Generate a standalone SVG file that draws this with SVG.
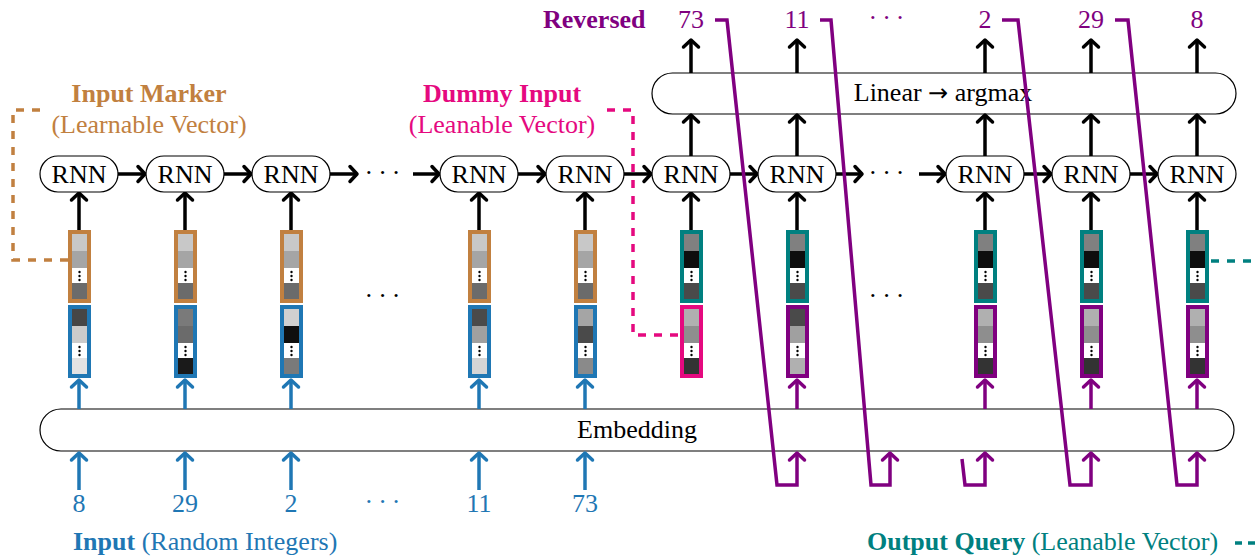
<svg xmlns="http://www.w3.org/2000/svg" width="1258" height="556" viewBox="0 0 1258 556">
<style>
.t{font-family:"Liberation Serif","Times New Roman",serif;font-size:26px}
.b{font-weight:bold}
.m{text-anchor:middle}
.node{fill:#fff;stroke:#000;stroke-width:1.2}
.ak{fill:none;stroke:#000;stroke-width:3.5}
.ab{fill:none;stroke:#1F77B4;stroke-width:3.5}
.ap{fill:none;stroke:#800080;stroke-width:3.5}
.dash{fill:none;stroke-width:3.5;stroke-dasharray:8 8}
.bo{fill:none;stroke-width:4}
.dot{fill:#000}
</style>
<defs>
<marker id="mk" markerUnits="userSpaceOnUse" markerWidth="24" markerHeight="24" viewBox="-12 -12 24 24" refX="0" refY="0" orient="auto" overflow="visible"><path d="M-7,-7.5 L0,0 L-7,7.5" fill="none" stroke="#000" stroke-width="3.5" stroke-linecap="round" stroke-linejoin="round"/></marker>
<marker id="mb" markerUnits="userSpaceOnUse" markerWidth="24" markerHeight="24" viewBox="-12 -12 24 24" refX="0" refY="0" orient="auto" overflow="visible"><path d="M-7,-7.5 L0,0 L-7,7.5" fill="none" stroke="#1F77B4" stroke-width="3.5" stroke-linecap="round" stroke-linejoin="round"/></marker>
<marker id="mp" markerUnits="userSpaceOnUse" markerWidth="24" markerHeight="24" viewBox="-12 -12 24 24" refX="0" refY="0" orient="auto" overflow="visible"><path d="M-7,-7.5 L0,0 L-7,7.5" fill="none" stroke="#800080" stroke-width="3.5" stroke-linecap="round" stroke-linejoin="round"/></marker>
</defs>

<!-- big boxes -->
<g id="linear"><rect x="652" y="73" width="584" height="41" rx="20.5" class="node"/><text x="943" y="101" class="t m">Linear <tspan font-family="DejaVu Sans, sans-serif" font-size="24">→</tspan> argmax</text></g>
<g id="embedding"><rect x="40" y="409" width="1194" height="42" rx="21" class="node"/><text x="637" y="438" class="t m">Embedding</text></g>

<!-- connectors -->
<g id="connectors">
<g marker-end="url(#mk)" class="ak">
<path d="M118,174 H145"/><path d="M224,174 H251"/><path d="M330,174 H357"/><path d="M413,174 H439"/><path d="M518,174 H545"/><path d="M624,174 H651"/><path d="M730,174 H757"/><path d="M836,174 H862"/><path d="M919,174 H945"/><path d="M1024,174 H1051"/><path d="M1130,174 H1157"/>
<path d="M79,230 V193"/><path d="M185,230 V193"/><path d="M291,230 V193"/><path d="M479,230 V193"/><path d="M585,230 V193"/>
<path d="M691,230 V193"/><path d="M797,230 V193"/><path d="M985,230 V193"/><path d="M1091,230 V193"/><path d="M1197,230 V193"/>
<path d="M691,156 V115"/><path d="M797,156 V115"/><path d="M985,156 V115"/><path d="M1091,156 V115"/><path d="M1197,156 V115"/>
<path d="M691,73 V40"/><path d="M797,73 V40"/><path d="M985,73 V40"/><path d="M1091,73 V40"/><path d="M1197,73 V40"/>
</g>
<g marker-end="url(#mb)" class="ab">
<path d="M79,490 V453"/><path d="M185,490 V453"/><path d="M291,490 V453"/><path d="M479,490 V453"/><path d="M585,490 V453"/>
<path d="M79,409 V380"/><path d="M185,409 V380"/><path d="M291,409 V380"/><path d="M479,409 V380"/><path d="M585,409 V380"/>
</g>
<g marker-end="url(#mp)" class="ap">
<path d="M797,409 V380"/><path d="M985,409 V380"/><path d="M1091,409 V380"/><path d="M1197,409 V380"/>
</g>
<path d="M40,110 H13 V260 H68" class="dash" stroke="#C18040"/>
<path d="M607,110 H633 V335 H679" class="dash" stroke="#E5097F"/>
<path d="M1211,261 H1258" class="dash" stroke="#008080"/>
<path d="M1235,543 H1258" class="dash" stroke="#008080" style="stroke-dasharray:7 6"/>
</g>

<!-- RNN nodes -->
<g id="rnn1"><rect x="40" y="156" width="78" height="36" rx="18" class="node"/><text x="79" y="183" class="t m">RNN</text></g>
<g id="rnn2"><rect x="146" y="156" width="78" height="36" rx="18" class="node"/><text x="185" y="183" class="t m">RNN</text></g>
<g id="rnn3"><rect x="252" y="156" width="78" height="36" rx="18" class="node"/><text x="291" y="183" class="t m">RNN</text></g>
<g id="rnn4"><rect x="440" y="156" width="78" height="36" rx="18" class="node"/><text x="479" y="183" class="t m">RNN</text></g>
<g id="rnn5"><rect x="546" y="156" width="78" height="36" rx="18" class="node"/><text x="585" y="183" class="t m">RNN</text></g>
<g id="rnn6"><rect x="652" y="156" width="78" height="36" rx="18" class="node"/><text x="691" y="183" class="t m">RNN</text></g>
<g id="rnn7"><rect x="758" y="156" width="78" height="36" rx="18" class="node"/><text x="797" y="183" class="t m">RNN</text></g>
<g id="rnn8"><rect x="946" y="156" width="78" height="36" rx="18" class="node"/><text x="985" y="183" class="t m">RNN</text></g>
<g id="rnn9"><rect x="1052" y="156" width="78" height="36" rx="18" class="node"/><text x="1091" y="183" class="t m">RNN</text></g>
<g id="rnn10"><rect x="1158" y="156" width="78" height="36" rx="18" class="node"/><text x="1197" y="183" class="t m">RNN</text></g>

<!-- vectors: upper (y0=230) -->
<g id="vec-up-79"><rect x="72" y="234" width="15" height="17" fill="#C8C8C8"/><rect x="72" y="251" width="15" height="17" fill="#A5A5A5"/><rect x="72" y="268" width="15" height="15" fill="#fff"/><rect x="72" y="283" width="15" height="16" fill="#6B6B6B"/><circle cx="79.5" cy="272" r="1.2" class="dot"/><circle cx="79.5" cy="276" r="1.2" class="dot"/><circle cx="79.5" cy="280" r="1.2" class="dot"/><rect x="70" y="232" width="19" height="69" class="bo" stroke="#C18040"/></g>
<g id="vec-up-185"><rect x="178" y="234" width="15" height="17" fill="#C8C8C8"/><rect x="178" y="251" width="15" height="17" fill="#A5A5A5"/><rect x="178" y="268" width="15" height="15" fill="#fff"/><rect x="178" y="283" width="15" height="16" fill="#6B6B6B"/><circle cx="185.5" cy="272" r="1.2" class="dot"/><circle cx="185.5" cy="276" r="1.2" class="dot"/><circle cx="185.5" cy="280" r="1.2" class="dot"/><rect x="176" y="232" width="19" height="69" class="bo" stroke="#C18040"/></g>
<g id="vec-up-291"><rect x="284" y="234" width="15" height="17" fill="#C8C8C8"/><rect x="284" y="251" width="15" height="17" fill="#A5A5A5"/><rect x="284" y="268" width="15" height="15" fill="#fff"/><rect x="284" y="283" width="15" height="16" fill="#6B6B6B"/><circle cx="291.5" cy="272" r="1.2" class="dot"/><circle cx="291.5" cy="276" r="1.2" class="dot"/><circle cx="291.5" cy="280" r="1.2" class="dot"/><rect x="282" y="232" width="19" height="69" class="bo" stroke="#C18040"/></g>
<g id="vec-up-479"><rect x="472" y="234" width="15" height="17" fill="#C8C8C8"/><rect x="472" y="251" width="15" height="17" fill="#A5A5A5"/><rect x="472" y="268" width="15" height="15" fill="#fff"/><rect x="472" y="283" width="15" height="16" fill="#6B6B6B"/><circle cx="479.5" cy="272" r="1.2" class="dot"/><circle cx="479.5" cy="276" r="1.2" class="dot"/><circle cx="479.5" cy="280" r="1.2" class="dot"/><rect x="470" y="232" width="19" height="69" class="bo" stroke="#C18040"/></g>
<g id="vec-up-585"><rect x="578" y="234" width="15" height="17" fill="#C8C8C8"/><rect x="578" y="251" width="15" height="17" fill="#A5A5A5"/><rect x="578" y="268" width="15" height="15" fill="#fff"/><rect x="578" y="283" width="15" height="16" fill="#6B6B6B"/><circle cx="585.5" cy="272" r="1.2" class="dot"/><circle cx="585.5" cy="276" r="1.2" class="dot"/><circle cx="585.5" cy="280" r="1.2" class="dot"/><rect x="576" y="232" width="19" height="69" class="bo" stroke="#C18040"/></g>
<g id="vec-up-691"><rect x="684" y="234" width="15" height="17" fill="#808080"/><rect x="684" y="251" width="15" height="17" fill="#0E0E0E"/><rect x="684" y="268" width="15" height="15" fill="#fff"/><rect x="684" y="283" width="15" height="16" fill="#4A4A4A"/><circle cx="691.5" cy="272" r="1.2" class="dot"/><circle cx="691.5" cy="276" r="1.2" class="dot"/><circle cx="691.5" cy="280" r="1.2" class="dot"/><rect x="682" y="232" width="19" height="69" class="bo" stroke="#008080"/></g>
<g id="vec-up-797"><rect x="790" y="234" width="15" height="17" fill="#808080"/><rect x="790" y="251" width="15" height="17" fill="#0E0E0E"/><rect x="790" y="268" width="15" height="15" fill="#fff"/><rect x="790" y="283" width="15" height="16" fill="#4A4A4A"/><circle cx="797.5" cy="272" r="1.2" class="dot"/><circle cx="797.5" cy="276" r="1.2" class="dot"/><circle cx="797.5" cy="280" r="1.2" class="dot"/><rect x="788" y="232" width="19" height="69" class="bo" stroke="#008080"/></g>
<g id="vec-up-985"><rect x="978" y="234" width="15" height="17" fill="#808080"/><rect x="978" y="251" width="15" height="17" fill="#0E0E0E"/><rect x="978" y="268" width="15" height="15" fill="#fff"/><rect x="978" y="283" width="15" height="16" fill="#4A4A4A"/><circle cx="985.5" cy="272" r="1.2" class="dot"/><circle cx="985.5" cy="276" r="1.2" class="dot"/><circle cx="985.5" cy="280" r="1.2" class="dot"/><rect x="976" y="232" width="19" height="69" class="bo" stroke="#008080"/></g>
<g id="vec-up-1091"><rect x="1084" y="234" width="15" height="17" fill="#808080"/><rect x="1084" y="251" width="15" height="17" fill="#0E0E0E"/><rect x="1084" y="268" width="15" height="15" fill="#fff"/><rect x="1084" y="283" width="15" height="16" fill="#4A4A4A"/><circle cx="1091.5" cy="272" r="1.2" class="dot"/><circle cx="1091.5" cy="276" r="1.2" class="dot"/><circle cx="1091.5" cy="280" r="1.2" class="dot"/><rect x="1082" y="232" width="19" height="69" class="bo" stroke="#008080"/></g>
<g id="vec-up-1197"><rect x="1190" y="234" width="15" height="17" fill="#808080"/><rect x="1190" y="251" width="15" height="17" fill="#0E0E0E"/><rect x="1190" y="268" width="15" height="15" fill="#fff"/><rect x="1190" y="283" width="15" height="16" fill="#4A4A4A"/><circle cx="1197.5" cy="272" r="1.2" class="dot"/><circle cx="1197.5" cy="276" r="1.2" class="dot"/><circle cx="1197.5" cy="280" r="1.2" class="dot"/><rect x="1188" y="232" width="19" height="69" class="bo" stroke="#008080"/></g>

<!-- vectors: lower (y0=305) -->
<g id="vec-lo-79"><rect x="72" y="309" width="15" height="17" fill="#464646"/><rect x="72" y="326" width="15" height="17" fill="#CBCBCB"/><rect x="72" y="343" width="15" height="15" fill="#fff"/><rect x="72" y="358" width="15" height="16" fill="#E3E3E3"/><circle cx="79.5" cy="347" r="1.2" class="dot"/><circle cx="79.5" cy="351" r="1.2" class="dot"/><circle cx="79.5" cy="355" r="1.2" class="dot"/><rect x="70" y="307" width="19" height="69" class="bo" stroke="#1F77B4"/></g>
<g id="vec-lo-185"><rect x="178" y="309" width="15" height="17" fill="#7A7A7A"/><rect x="178" y="326" width="15" height="17" fill="#6B6B6B"/><rect x="178" y="343" width="15" height="15" fill="#fff"/><rect x="178" y="358" width="15" height="16" fill="#1A1A1A"/><circle cx="185.5" cy="347" r="1.2" class="dot"/><circle cx="185.5" cy="351" r="1.2" class="dot"/><circle cx="185.5" cy="355" r="1.2" class="dot"/><rect x="176" y="307" width="19" height="69" class="bo" stroke="#1F77B4"/></g>
<g id="vec-lo-291"><rect x="284" y="309" width="15" height="17" fill="#D0D0D0"/><rect x="284" y="326" width="15" height="17" fill="#0F0F0F"/><rect x="284" y="343" width="15" height="15" fill="#fff"/><rect x="284" y="358" width="15" height="16" fill="#7A7A7A"/><circle cx="291.5" cy="347" r="1.2" class="dot"/><circle cx="291.5" cy="351" r="1.2" class="dot"/><circle cx="291.5" cy="355" r="1.2" class="dot"/><rect x="282" y="307" width="19" height="69" class="bo" stroke="#1F77B4"/></g>
<g id="vec-lo-479"><rect x="472" y="309" width="15" height="17" fill="#4A4A4A"/><rect x="472" y="326" width="15" height="17" fill="#A0A0A0"/><rect x="472" y="343" width="15" height="15" fill="#fff"/><rect x="472" y="358" width="15" height="16" fill="#D5D5D5"/><circle cx="479.5" cy="347" r="1.2" class="dot"/><circle cx="479.5" cy="351" r="1.2" class="dot"/><circle cx="479.5" cy="355" r="1.2" class="dot"/><rect x="470" y="307" width="19" height="69" class="bo" stroke="#1F77B4"/></g>
<g id="vec-lo-585"><rect x="578" y="309" width="15" height="17" fill="#A5A5A5"/><rect x="578" y="326" width="15" height="17" fill="#4A4A4A"/><rect x="578" y="343" width="15" height="15" fill="#fff"/><rect x="578" y="358" width="15" height="16" fill="#8A8A8A"/><circle cx="585.5" cy="347" r="1.2" class="dot"/><circle cx="585.5" cy="351" r="1.2" class="dot"/><circle cx="585.5" cy="355" r="1.2" class="dot"/><rect x="576" y="307" width="19" height="69" class="bo" stroke="#1F77B4"/></g>
<g id="vec-lo-691"><rect x="684" y="309" width="15" height="17" fill="#B0B0B0"/><rect x="684" y="326" width="15" height="17" fill="#8E8E8E"/><rect x="684" y="343" width="15" height="15" fill="#fff"/><rect x="684" y="358" width="15" height="16" fill="#333333"/><circle cx="691.5" cy="347" r="1.2" class="dot"/><circle cx="691.5" cy="351" r="1.2" class="dot"/><circle cx="691.5" cy="355" r="1.2" class="dot"/><rect x="682" y="307" width="19" height="69" class="bo" stroke="#E5097F"/></g>
<g id="vec-lo-797"><rect x="790" y="309" width="15" height="17" fill="#4A4A4A"/><rect x="790" y="326" width="15" height="17" fill="#A0A0A0"/><rect x="790" y="343" width="15" height="15" fill="#fff"/><rect x="790" y="358" width="15" height="16" fill="#B0B0B0"/><circle cx="797.5" cy="347" r="1.2" class="dot"/><circle cx="797.5" cy="351" r="1.2" class="dot"/><circle cx="797.5" cy="355" r="1.2" class="dot"/><rect x="788" y="307" width="19" height="69" class="bo" stroke="#800080"/></g>
<g id="vec-lo-985"><rect x="978" y="309" width="15" height="17" fill="#B0B0B0"/><rect x="978" y="326" width="15" height="17" fill="#8E8E8E"/><rect x="978" y="343" width="15" height="15" fill="#fff"/><rect x="978" y="358" width="15" height="16" fill="#333333"/><circle cx="985.5" cy="347" r="1.2" class="dot"/><circle cx="985.5" cy="351" r="1.2" class="dot"/><circle cx="985.5" cy="355" r="1.2" class="dot"/><rect x="976" y="307" width="19" height="69" class="bo" stroke="#800080"/></g>
<g id="vec-lo-1091"><rect x="1084" y="309" width="15" height="17" fill="#B0B0B0"/><rect x="1084" y="326" width="15" height="17" fill="#8E8E8E"/><rect x="1084" y="343" width="15" height="15" fill="#fff"/><rect x="1084" y="358" width="15" height="16" fill="#333333"/><circle cx="1091.5" cy="347" r="1.2" class="dot"/><circle cx="1091.5" cy="351" r="1.2" class="dot"/><circle cx="1091.5" cy="355" r="1.2" class="dot"/><rect x="1082" y="307" width="19" height="69" class="bo" stroke="#800080"/></g>
<g id="vec-lo-1197"><rect x="1190" y="309" width="15" height="17" fill="#B0B0B0"/><rect x="1190" y="326" width="15" height="17" fill="#8E8E8E"/><rect x="1190" y="343" width="15" height="15" fill="#fff"/><rect x="1190" y="358" width="15" height="16" fill="#333333"/><circle cx="1197.5" cy="347" r="1.2" class="dot"/><circle cx="1197.5" cy="351" r="1.2" class="dot"/><circle cx="1197.5" cy="355" r="1.2" class="dot"/><rect x="1188" y="307" width="19" height="69" class="bo" stroke="#800080"/></g>

<!-- purple feedback connectors -->
<g id="feedback" class="ap" marker-end="url(#mp)">
<path d="M715,20 H727 L777,485 H797 V453"/>
<path d="M820,20 H831 L871,485 H890 V453"/>
<path d="M962,459 L965,485 H985 V453"/>
<path d="M1002,20 H1018 L1070,485 H1091 V453"/>
<path d="M1115,20 H1128 L1177,485 H1197 V453"/>
</g>

<!-- dots -->
<g id="ellipses" class="t m">
<text x="385" y="181" letter-spacing="5">···</text>
<text x="889" y="181" letter-spacing="5">···</text>
<text x="385" y="304" letter-spacing="5">···</text>
<text x="889" y="304" letter-spacing="5">···</text>
<text x="385" y="510" letter-spacing="5" fill="#1F77B4">···</text>
<text x="889" y="26" letter-spacing="5" fill="#800080">···</text>
</g>

<!-- labels -->
<g id="labels" class="t">
<text x="149" y="102" class="m b" fill="#C18040">Input Marker</text>
<text x="149" y="133" class="m" fill="#C18040">(Learnable Vector)</text>
<text x="502" y="102" class="m b" fill="#E5097F">Dummy Input</text>
<text x="502" y="133" class="m" fill="#E5097F">(Leanable Vector)</text>
<text x="543" y="28" class="b" fill="#800080">Reversed</text>
<g fill="#800080" class="m"><text x="691" y="28">73</text><text x="797" y="28">11</text><text x="985" y="28">2</text><text x="1091" y="28">29</text><text x="1197" y="28">8</text></g>
<g fill="#1F77B4" class="m"><text x="79" y="512">8</text><text x="185" y="512">29</text><text x="291" y="512">2</text><text x="479" y="512">11</text><text x="585" y="512">73</text></g>
<text x="73" y="550" fill="#1F77B4"><tspan class="b">Input</tspan> (Random Integers)</text>
<text x="867" y="550" fill="#008080"><tspan class="b">Output Query</tspan> (Leanable Vector)</text>
</g>
</svg>
